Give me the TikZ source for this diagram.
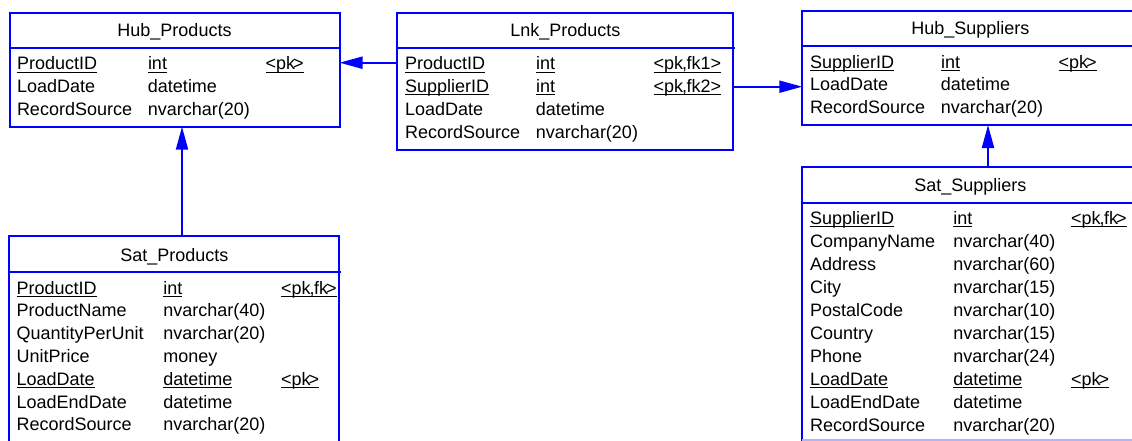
\documentclass[tikz,border=0pt]{standalone}
\usepackage{fontspec}
\setmainfont{Liberation Sans}
\usepackage{array}
\usetikzlibrary{arrows.meta}
\definecolor{erblue}{RGB}{0,0,255}
% underline at a fixed depth below the baseline, regardless of descenders
\newcommand\keyul[1]{\leavevmode\setbox0=\hbox{#1}\rlap{\rule[-3pt]{\wd0}{1.1pt}}\box0}
\newcommand\rowfont[1]{\fontsize{18}{#1}\selectfont}
% key markers, set tightly
\newcommand\kpk{<pk\kern-2pt>}
\newcommand\kpkfk{<pk\kern-1pt,\kern-0.5pt fk\kern-2pt>}
\newcommand\kpkfkn[1]{<pk\kern-1pt,\kern-0.5pt fk#1>}

\tikzset{
  tbl/.style={draw=erblue, line width=2pt, rectangle, anchor=north west,
              inner sep=0pt, outer sep=0pt},
  ttl/.style={anchor=base, inner sep=0pt, font=\fontsize{18}{22}\selectfont},
  body/.style={anchor=base west, inner sep=0pt, outer sep=0pt},
  divl/.style={draw=erblue, line width=2pt},
  rel/.style={draw=erblue, line width=2pt, -{Triangle[length=23pt,width=12pt]}},
}

\begin{document}
\begin{tikzpicture}[x=1pt,y=-1pt]
\useasboundingbox (0,0) rectangle (1132,441);
\clip (0,0) rectangle (1132,441);

% ---------------- Hub_Products ----------------
\node[tbl, minimum width=330pt, minimum height=114pt] (hubp) at (9.5,12.7) {};
\draw[divl] (hubp.north west) ++(0,35) -- ++(331.5,0);
\node[ttl] (hubp-t) at (174.5,36.6) {Hub\_Products};
\node[body] (hubp-b) at (17,69.7) {\rowfont{22.8}%
  \begin{tabular}[t]{@{}p{131pt}@{}p{117.5pt}@{}l@{}}
  \keyul{ProductID} & \keyul{int} & \keyul{\kpk}\\
  LoadDate & datetime & \\
  RecordSource & nvarchar(20) &
  \end{tabular}};

% ---------------- Lnk_Products ----------------
\node[tbl, minimum width=336pt, minimum height=137.3pt] (lnk) at (397.3,12.7) {};
\draw[divl] (lnk.north west) ++(0,35) -- ++(337.5,0);
\node[ttl] (lnk-t) at (565.3,36.2) {Lnk\_Products};
\node[body] (lnk-b) at (405,69.7) {\rowfont{22.8}%
  \begin{tabular}[t]{@{}p{131pt}@{}p{117.5pt}@{}l@{}}
  \keyul{ProductID} & \keyul{int} & \keyul{\kpkfkn{1}}\\
  \keyul{SupplierID} & \keyul{int} & \keyul{\kpkfkn{2}}\\
  LoadDate & datetime & \\
  RecordSource & nvarchar(20) &
  \end{tabular}};

% ---------------- Hub_Suppliers ----------------
\node[tbl, minimum width=336pt, minimum height=114pt] (hubs) at (802.3,11) {};
\draw[divl] (hubs.north west) ++(0,35) -- ++(337.5,0);
\node[ttl] (hubs-t) at (970.3,34.8) {Hub\_Suppliers};
\node[body] (hubs-b) at (810,68.2) {\rowfont{22.7}%
  \begin{tabular}[t]{@{}p{131pt}@{}p{117.5pt}@{}l@{}}
  \keyul{SupplierID} & \keyul{int} & \keyul{\kpk}\\
  LoadDate & datetime & \\
  RecordSource & nvarchar(20) &
  \end{tabular}};

% ---------------- Sat_Products ----------------
\node[tbl, minimum width=330pt, minimum height=230pt] (satp) at (9.3,235.7) {};
\draw[divl] (satp.north west) ++(0,36) -- ++(331.5,0);
\node[ttl] (satp-t) at (174.3,261) {Sat\_Products};
\node[body] (satp-b) at (16.7,294) {\rowfont{22.8}%
  \begin{tabular}[t]{@{}p{146.6pt}@{}p{117.7pt}@{}l@{}}
  \keyul{ProductID} & \keyul{int} & \keyul{\kpkfk}\\
  ProductName & nvarchar(40) & \\
  QuantityPerUnit & nvarchar(20) & \\
  UnitPrice & money & \\
  \keyul{LoadDate} & \keyul{datetime} & \keyul{\kpk}\\
  LoadEndDate & datetime & \\
  RecordSource & nvarchar(20) &
  \end{tabular}};

% ---------------- Sat_Suppliers ----------------
\node[tbl, minimum width=336pt, minimum height=276pt] (sats) at (802.3,166.7) {};
\draw[divl] (sats.north west) ++(0,36) -- ++(337.5,0);
\draw[draw=erblue!30, line width=2pt] (sats.west |- 0,440) -- (sats.east |- 0,440);
\node[ttl] (sats-t) at (970.3,191) {Sat\_Suppliers};
\node[body] (sats-b) at (810,224) {\rowfont{23}%
  \begin{tabular}[t]{@{}p{143.3pt}@{}p{117.7pt}@{}l@{}}
  \keyul{SupplierID} & \keyul{int} & \keyul{\kpkfk}\\
  CompanyName & nvarchar(40) & \\
  Address & nvarchar(60) & \\
  City & nvarchar(15) & \\
  PostalCode & nvarchar(10) & \\
  Country & nvarchar(15) & \\
  Phone & nvarchar(24) & \\
  \keyul{LoadDate} & \keyul{datetime} & \keyul{\kpk}\\
  LoadEndDate & datetime & \\
  RecordSource & nvarchar(20) &
  \end{tabular}};

% ---------------- references ----------------
\draw[rel] (lnk.west |- 0,62.7) -- (hubp.east |- 0,62.7);
\draw[rel] (lnk.east |- 0,86.7) -- (hubs.west |- 0,86.7);
\draw[rel] (satp.north -| 182,0) -- (hubp.south -| 182,0);
\draw[rel] (sats.north -| 988,0) -- (hubs.south -| 988,0);
\end{tikzpicture}
\end{document}
